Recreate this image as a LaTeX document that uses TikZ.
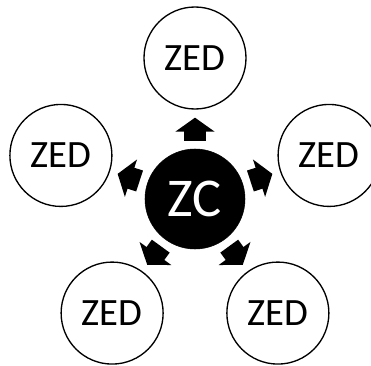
\documentclass[tikz,border=0pt]{standalone}
\usepackage{fontspec}
\setmainfont{Carlito}
\usetikzlibrary{positioning, arrows.meta}

\begin{document}
\begin{tikzpicture}[
  x=0.75pt, y=0.75pt,
  hub/.style={circle, fill=black, draw=black, minimum size=75pt, inner sep=0pt,
              text=white, font=\fontsize{41}{45}\selectfont},
  sat/.style={circle, draw=black, line width=1pt, fill=white, minimum size=76.5pt,
              inner sep=0pt, font=\fontsize{29}{32}\selectfont},
  arr/.style={-{Triangle[length=10.5pt, width=29pt]}, line width=16.5pt, color=black,
              shorten <=6pt, shorten >=6pt},
]
\useasboundingbox (-195,-166) rectangle (176,199);

% hub in the middle
\node[hub] (zc) at (0,0) {ZC};

% five satellites on a pentagon
\node[sat] (zed1) at (90:141) {ZED};
\node[sat] (zed2) at (162:141) {ZED};
\node[sat] (zed3) at (18:141) {ZED};
\node[sat] (zed4) at (234:141) {ZED};
\node[sat] (zed5) at (306:141) {ZED};

% block arrows outward
\draw[arr] (zc) -- (zed1);
\draw[arr] (zc) -- (zed2);
\draw[arr] (zc) -- (zed3);
\draw[arr] (zc) -- (zed4);
\draw[arr] (zc) -- (zed5);

\end{tikzpicture}
\end{document}
